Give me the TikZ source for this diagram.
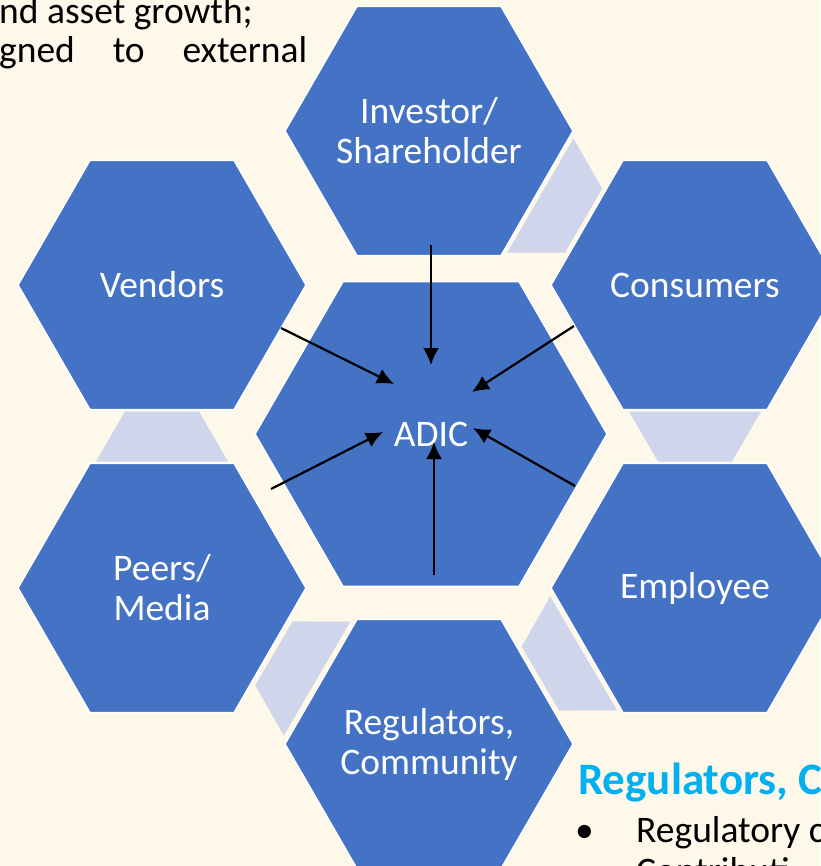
\documentclass[tikz,border=0pt]{standalone}
\usepackage{fontspec}
\setmainfont{Carlito}
\usetikzlibrary{shapes.geometric,arrows.meta,calc,backgrounds}
\definecolor{hexblue}{HTML}{4472C4}
\definecolor{linkgray}{HTML}{CFD5EA}
\definecolor{paper}{HTML}{FEF8EA}
\definecolor{headblue}{HTML}{00B0F0}
\tikzstyle{hextext} = [text=white, align=center, inner sep=0pt, font=\fontsize{37.5}{40}\selectfont]
\tikzstyle{hex} = [regular polygon, regular polygon sides=6, minimum size=288pt, inner sep=0pt, fill=hexblue, draw=white, line width=1.5pt]
\tikzstyle{core} = [hex, minimum size=352pt]
\tikzstyle{line} = [draw, -{Latex[length=17pt,width=16pt]}, line width=2.2pt]
\tikzstyle{link} = [fill=linkgray]
\tikzstyle{body} = [inner sep=0pt, anchor=base west, font=\fontsize{37.5}{40}\selectfont]
\newcommand{\hexlink}[2]{%
  \coordinate (m) at ($(#1)!0.5!(#2)$);
  \coordinate (p) at ($(m)!25pt!(#1)$);
  \coordinate (q) at ($(m)!25pt!(#2)$);
  \fill[link] ($(p)!66pt!90:(#2)$) -- ($(p)!66pt!-90:(#2)$) -- ($(q)!37pt!90:(#1)$) -- ($(q)!37pt!-90:(#1)$) -- cycle;}

\begin{document}
\begin{tikzpicture}[x=1pt, y=-1pt]
    \useasboundingbox (0,0) rectangle (820,866);
    % hexagons
    \node[core, label={[hextext]center:ADIC}] (adic) at (431,434) {};
    \node[hex, label={[hextext]center:Investor/\\Shareholder}] (inv) at (429,131) {};
    \node[hex, label={[hextext]center:Consumers}] (cons) at (695,285) {};
    \node[hex, label={[hextext]center:Employee}] (emp) at (695,588) {};
    \node[hex, label={[hextext]center:Regulators,\\Community}] (reg) at (429,744) {};
    \node[hex, label={[hextext]center:Peers/\\Media}] (peers) at (162,588) {};
    \node[hex, label={[hextext]center:Vendors}] (vend) at (162,285) {};
    % links behind
    \begin{pgfonlayer}{background}
        \fill[paper] (0,0) rectangle (820,866);
        \hexlink{inv}{cons}
        \hexlink{cons}{emp}
        \hexlink{emp}{reg}
        \hexlink{reg}{peers}
        \hexlink{peers}{vend}
    \end{pgfonlayer}
    % arrows
    \coordinate (inv-a) at (431,245);
    \coordinate (inv-b) at (431,365);
    \coordinate (vend-a) at (281,328);
    \coordinate (vend-b) at (394,384);
    \coordinate (cons-a) at (574,326);
    \coordinate (cons-b) at (472,392);
    \coordinate (peers-a) at (271,489);
    \coordinate (peers-b) at (383,432);
    \coordinate (emp-a) at (575,486);
    \coordinate (emp-b) at (473,428);
    \coordinate (reg-a) at (434,575);
    \coordinate (reg-b) at (434,442);
    \path[line] (inv-a) -- (inv-b);
    \path[line] (vend-a) -- (vend-b);
    \path[line] (cons-a) -- (cons-b);
    \path[line] (peers-a) -- (peers-b);
    \path[line] (emp-a) -- (emp-b);
    \path[line] (reg-a) -- (reg-b);
    % side text
    \node[body] (txt1) at (-1,24) {nd asset growth;};
    \node[body] (txt2) at (-1,63) {\makebox[308pt][s]{gned to external}};
    \node[body, text=headblue, font=\bfseries\fontsize{45}{48}\selectfont] (head) at (578,794) {Regulators, C};
    \node[body] (dot) at (575,842) {•};
    \node[body] (txt3) at (636,842) {Regulatory c};
    \node[body] (txt4) at (636,883) {Contributi};
\end{tikzpicture}
\end{document}
